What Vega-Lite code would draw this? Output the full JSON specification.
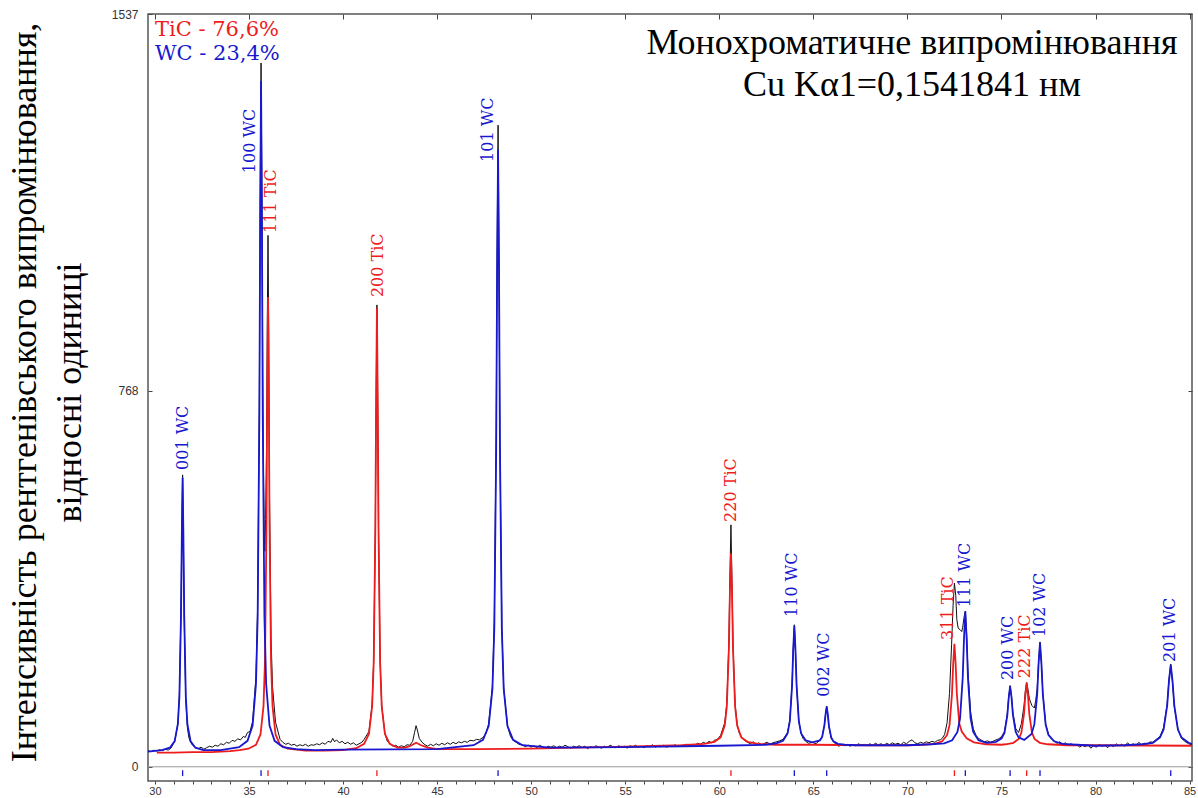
{
"$schema": "https://vega.github.io/schema/vega-lite/v6.json",
"width": 1044,
"height": 767,
"autosize": {"type": "none"},
"padding": {"left": 148, "top": 14, "right": 6, "bottom": 17},
"background": "white",
"config": {"view": {"stroke": "#555", "strokeWidth": 1.5}},
"title": {"text": ["Монохроматичне випромінювання", "Cu Kα1=0,1541841 нм"], "orient": "top", "anchor": "end", "align": "center", "dx": -280, "offset": -96, "baseline": "top", "font": "Liberation Serif", "fontSize": 36, "fontWeight": "normal", "color": "#000", "lineHeight": 42, "frame": "group"},
"datasets": {
"obs": [
{"x":29.63,"y":33},{"x":29.8,"y":31},{"x":29.95,"y":34},{"x":30.1,"y":32},{"x":30.25,"y":35},{"x":30.4,"y":33},{"x":30.55,"y":36},{"x":30.7,"y":34},{"x":30.85,"y":38},{"x":31.05,"y":52},{"x":31.22,"y":88},{"x":31.3,"y":150},{"x":31.385,"y":320},{"x":31.43,"y":490},{"x":31.47,"y":596},{"x":31.51,"y":470},{"x":31.555,"y":300},{"x":31.64,"y":135},{"x":31.725,"y":80},{"x":31.8,"y":60},{"x":31.895,"y":50},{"x":32.0,"y":44},{"x":32.15,"y":40},{"x":32.3,"y":37},{"x":32.45,"y":40},{"x":32.6,"y":36},{"x":32.75,"y":39},{"x":32.9,"y":42},{"x":33.05,"y":40},{"x":33.2,"y":44},{"x":33.35,"y":42},{"x":33.5,"y":47},{"x":33.65,"y":45},{"x":33.8,"y":50},{"x":33.95,"y":48},{"x":34.1,"y":54},{"x":34.25,"y":52},{"x":34.4,"y":57},{"x":34.55,"y":55},{"x":34.7,"y":62},{"x":34.8,"y":60},{"x":34.92,"y":70},{"x":35.05,"y":72},{"x":35.19,"y":92},{"x":35.37,"y":185},{"x":35.46,"y":330},{"x":35.55,"y":760},{"x":35.595,"y":1170},{"x":35.64,"y":1437},{"x":35.685,"y":1180},{"x":35.73,"y":800},{"x":35.77,"y":600},{"x":35.82,"y":450},{"x":35.85,"y":440},{"x":35.88,"y":505},{"x":35.93,"y":650},{"x":35.97,"y":900},{"x":36.01,"y":1085},{"x":36.05,"y":880},{"x":36.09,"y":550},{"x":36.17,"y":265},{"x":36.25,"y":164},{"x":36.41,"y":91},{"x":36.65,"y":56},{"x":36.8,"y":50},{"x":36.95,"y":46},{"x":37.1,"y":48},{"x":37.25,"y":44},{"x":37.4,"y":46},{"x":37.55,"y":42},{"x":37.7,"y":45},{"x":37.85,"y":43},{"x":38.0,"y":46},{"x":38.15,"y":42},{"x":38.3,"y":45},{"x":38.45,"y":44},{"x":38.6,"y":47},{"x":38.75,"y":45},{"x":38.9,"y":49},{"x":39.05,"y":46},{"x":39.2,"y":52},{"x":39.35,"y":50},{"x":39.45,"y":58},{"x":39.55,"y":51},{"x":39.65,"y":55},{"x":39.8,"y":49},{"x":39.95,"y":52},{"x":40.1,"y":47},{"x":40.25,"y":50},{"x":40.4,"y":46},{"x":40.55,"y":49},{"x":40.7,"y":44},{"x":40.85,"y":47},{"x":41.0,"y":50},{"x":41.12,"y":56},{"x":41.375,"y":72},{"x":41.545,"y":128},{"x":41.63,"y":220},{"x":41.715,"y":490},{"x":41.76,"y":760},{"x":41.8,"y":943},{"x":41.84,"y":750},{"x":41.885,"y":480},{"x":41.97,"y":215},{"x":42.055,"y":125},{"x":42.225,"y":68},{"x":42.35,"y":52},{"x":42.48,"y":48},{"x":42.65,"y":42},{"x":42.8,"y":44},{"x":42.95,"y":40},{"x":43.1,"y":43},{"x":43.25,"y":41},{"x":43.4,"y":45},{"x":43.55,"y":44},{"x":43.7,"y":52},{"x":43.8,"y":70},{"x":43.88,"y":84},{"x":43.95,"y":75},{"x":44.05,"y":58},{"x":44.2,"y":50},{"x":44.35,"y":45},{"x":44.5,"y":42},{"x":44.65,"y":46},{"x":44.8,"y":43},{"x":44.95,"y":47},{"x":45.1,"y":44},{"x":45.25,"y":48},{"x":45.4,"y":45},{"x":45.55,"y":49},{"x":45.7,"y":46},{"x":45.85,"y":50},{"x":46.0,"y":47},{"x":46.15,"y":51},{"x":46.3,"y":49},{"x":46.45,"y":52},{"x":46.6,"y":50},{"x":46.75,"y":54},{"x":46.94,"y":53},{"x":47.1,"y":56},{"x":47.25,"y":55},{"x":47.44,"y":60},{"x":47.6,"y":68},{"x":47.74,"y":88},{"x":47.94,"y":165},{"x":48.04,"y":300},{"x":48.14,"y":690},{"x":48.19,"y":1060},{"x":48.24,"y":1310},{"x":48.29,"y":1030},{"x":48.34,"y":660},{"x":48.44,"y":285},{"x":48.54,"y":160},{"x":48.74,"y":84},{"x":48.9,"y":62},{"x":49.04,"y":54},{"x":49.2,"y":50},{"x":49.35,"y":46},{"x":49.54,"y":44},{"x":49.7,"y":41},{"x":49.85,"y":44},{"x":50.0,"y":40},{"x":50.15,"y":43},{"x":50.3,"y":39},{"x":50.45,"y":44},{"x":50.6,"y":41},{"x":50.75,"y":38},{"x":50.9,"y":42},{"x":51.05,"y":40},{"x":51.2,"y":43},{"x":51.35,"y":39},{"x":51.5,"y":42},{"x":51.65,"y":40},{"x":51.8,"y":44},{"x":51.95,"y":41},{"x":52.1,"y":38},{"x":52.25,"y":42},{"x":52.4,"y":40},{"x":52.55,"y":43},{"x":52.7,"y":39},{"x":52.85,"y":42},{"x":53.0,"y":37},{"x":53.15,"y":41},{"x":53.3,"y":39},{"x":53.45,"y":43},{"x":53.6,"y":40},{"x":53.75,"y":38},{"x":53.9,"y":42},{"x":54.05,"y":40},{"x":54.2,"y":44},{"x":54.35,"y":41},{"x":54.5,"y":39},{"x":54.65,"y":43},{"x":54.8,"y":40},{"x":54.95,"y":42},{"x":55.1,"y":38},{"x":55.25,"y":43},{"x":55.4,"y":41},{"x":55.55,"y":44},{"x":55.7,"y":40},{"x":55.85,"y":42},{"x":56.0,"y":39},{"x":56.15,"y":43},{"x":56.3,"y":41},{"x":56.45,"y":45},{"x":56.6,"y":40},{"x":56.75,"y":43},{"x":56.9,"y":41},{"x":57.05,"y":44},{"x":57.2,"y":40},{"x":57.35,"y":43},{"x":57.5,"y":42},{"x":57.65,"y":45},{"x":57.8,"y":41},{"x":57.95,"y":44},{"x":58.1,"y":42},{"x":58.25,"y":46},{"x":58.4,"y":43},{"x":58.55,"y":45},{"x":58.7,"y":44},{"x":58.85,"y":48},{"x":59.0,"y":46},{"x":59.15,"y":50},{"x":59.3,"y":47},{"x":59.45,"y":52},{"x":59.6,"y":49},{"x":59.74,"y":54},{"x":59.9,"y":56},{"x":60.07,"y":64},{"x":60.29,"y":90},{"x":60.4,"y":130},{"x":60.51,"y":255},{"x":60.565,"y":390},{"x":60.62,"y":494},{"x":60.675,"y":380},{"x":60.73,"y":250},{"x":60.84,"y":128},{"x":60.95,"y":88},{"x":61.05,"y":70},{"x":61.17,"y":62},{"x":61.3,"y":55},{"x":61.5,"y":50},{"x":61.65,"y":47},{"x":61.8,"y":51},{"x":61.95,"y":46},{"x":62.1,"y":49},{"x":62.25,"y":45},{"x":62.4,"y":48},{"x":62.55,"y":50},{"x":62.7,"y":46},{"x":62.85,"y":49},{"x":63.03,"y":51},{"x":63.2,"y":53},{"x":63.39,"y":56},{"x":63.63,"y":70},{"x":63.75,"y":95},{"x":63.87,"y":170},{"x":63.93,"y":240},{"x":63.99,"y":290},{"x":64.05,"y":238},{"x":64.11,"y":165},{"x":64.23,"y":92},{"x":64.35,"y":68},{"x":64.45,"y":58},{"x":64.59,"y":52},{"x":64.75,"y":48},{"x":64.95,"y":50},{"x":65.15,"y":47},{"x":65.35,"y":55},{"x":65.47,"y":62},{"x":65.59,"y":86},{"x":65.65,"y":108},{"x":65.71,"y":124},{"x":65.77,"y":105},{"x":65.83,"y":82},{"x":65.95,"y":58},{"x":66.07,"y":51},{"x":66.2,"y":46},{"x":66.35,"y":42},{"x":66.5,"y":45},{"x":66.65,"y":43},{"x":66.8,"y":46},{"x":66.95,"y":42},{"x":67.1,"y":45},{"x":67.25,"y":43},{"x":67.4,"y":47},{"x":67.55,"y":44},{"x":67.7,"y":46},{"x":67.85,"y":43},{"x":68.0,"y":47},{"x":68.15,"y":44},{"x":68.3,"y":48},{"x":68.45,"y":45},{"x":68.6,"y":47},{"x":68.75,"y":44},{"x":68.9,"y":48},{"x":69.05,"y":45},{"x":69.2,"y":49},{"x":69.35,"y":46},{"x":69.5,"y":48},{"x":69.65,"y":45},{"x":69.8,"y":50},{"x":69.95,"y":47},{"x":70.1,"y":52},{"x":70.25,"y":55},{"x":70.4,"y":49},{"x":70.55,"y":47},{"x":70.7,"y":50},{"x":70.85,"y":48},{"x":71.0,"y":51},{"x":71.15,"y":49},{"x":71.3,"y":52},{"x":71.46,"y":50},{"x":71.6,"y":54},{"x":71.75,"y":55},{"x":71.85,"y":58},{"x":71.98,"y":66},{"x":72.11,"y":90},{"x":72.24,"y":150},{"x":72.35,"y":250},{"x":72.43,"y":330},{"x":72.5,"y":375},{"x":72.57,"y":350},{"x":72.63,"y":300},{"x":72.7,"y":283},{"x":72.8,"y":280},{"x":72.89,"y":276},{"x":72.94,"y":285},{"x":73.01,"y":305},{"x":73.08,"y":318},{"x":73.15,"y":270},{"x":73.22,"y":195},{"x":73.36,"y":112},{"x":73.5,"y":78},{"x":73.65,"y":64},{"x":73.78,"y":58},{"x":73.95,"y":54},{"x":74.1,"y":51},{"x":74.26,"y":53},{"x":74.4,"y":50},{"x":74.55,"y":52},{"x":74.71,"y":55},{"x":74.85,"y":57},{"x":75.01,"y":62},{"x":75.16,"y":72},{"x":75.31,"y":108},{"x":75.385,"y":142},{"x":75.46,"y":166},{"x":75.535,"y":144},{"x":75.61,"y":110},{"x":75.76,"y":78},{"x":75.91,"y":70},{"x":76.06,"y":88},{"x":76.2,"y":125},{"x":76.27,"y":155},{"x":76.34,"y":172},{"x":76.41,"y":158},{"x":76.48,"y":140},{"x":76.55,"y":132},{"x":76.62,"y":125},{"x":76.75,"y":120},{"x":76.82,"y":135},{"x":76.9,"y":160},{"x":76.975,"y":215},{"x":77.05,"y":255},{"x":77.125,"y":212},{"x":77.2,"y":150},{"x":77.35,"y":88},{"x":77.5,"y":66},{"x":77.65,"y":57},{"x":77.8,"y":53},{"x":77.95,"y":48},{"x":78.1,"y":51},{"x":78.25,"y":46},{"x":78.4,"y":49},{"x":78.55,"y":44},{"x":78.7,"y":47},{"x":78.85,"y":43},{"x":79.0,"y":46},{"x":79.15,"y":40},{"x":79.3,"y":44},{"x":79.45,"y":41},{"x":79.6,"y":45},{"x":79.75,"y":38},{"x":79.9,"y":43},{"x":80.05,"y":40},{"x":80.2,"y":46},{"x":80.35,"y":42},{"x":80.5,"y":44},{"x":80.65,"y":39},{"x":80.8,"y":45},{"x":80.95,"y":41},{"x":81.1,"y":47},{"x":81.25,"y":43},{"x":81.4,"y":46},{"x":81.55,"y":42},{"x":81.7,"y":49},{"x":81.85,"y":44},{"x":82.0,"y":47},{"x":82.15,"y":43},{"x":82.3,"y":50},{"x":82.45,"y":45},{"x":82.6,"y":48},{"x":82.75,"y":46},{"x":82.9,"y":51},{"x":83.05,"y":50},{"x":83.2,"y":55},{"x":83.43,"y":62},{"x":83.62,"y":80},{"x":83.81,"y":128},{"x":83.905,"y":178},{"x":84.0,"y":210},{"x":84.095,"y":172},{"x":84.19,"y":122},{"x":84.38,"y":78},{"x":84.57,"y":58},{"x":84.75,"y":52},{"x":84.95,"y":47},{"x":85.13,"y":45}
],
"fit": [
{"phase":"TiC","x":30.1,"y":29},{"phase":"TiC","x":31,"y":29},{"phase":"TiC","x":32,"y":30},{"phase":"TiC","x":33,"y":30},{"phase":"TiC","x":34,"y":32},{"phase":"TiC","x":34.5,"y":34},{"phase":"TiC","x":34.97,"y":37},{"phase":"TiC","x":35.37,"y":45},{"phase":"TiC","x":35.61,"y":66},{"phase":"TiC","x":35.77,"y":124},{"phase":"TiC","x":35.85,"y":217},{"phase":"TiC","x":35.93,"y":495},{"phase":"TiC","x":35.97,"y":773},{"phase":"TiC","x":36.01,"y":959},{"phase":"TiC","x":36.05,"y":773},{"phase":"TiC","x":36.09,"y":495},{"phase":"TiC","x":36.17,"y":217},{"phase":"TiC","x":36.25,"y":124},{"phase":"TiC","x":36.41,"y":66},{"phase":"TiC","x":36.65,"y":45},{"phase":"TiC","x":37.05,"y":37},{"phase":"TiC","x":38,"y":33},{"phase":"TiC","x":39,"y":33},{"phase":"TiC","x":40,"y":34},{"phase":"TiC","x":40.7,"y":38},{"phase":"TiC","x":41.12,"y":47},{"phase":"TiC","x":41.375,"y":67},{"phase":"TiC","x":41.545,"y":123},{"phase":"TiC","x":41.63,"y":214},{"phase":"TiC","x":41.715,"y":485},{"phase":"TiC","x":41.76,"y":755},{"phase":"TiC","x":41.8,"y":936},{"phase":"TiC","x":41.84,"y":755},{"phase":"TiC","x":41.885,"y":485},{"phase":"TiC","x":41.97,"y":214},{"phase":"TiC","x":42.055,"y":123},{"phase":"TiC","x":42.225,"y":67},{"phase":"TiC","x":42.48,"y":47},{"phase":"TiC","x":42.9,"y":39},{"phase":"TiC","x":43.3,"y":39},{"phase":"TiC","x":43.6,"y":43},{"phase":"TiC","x":43.88,"y":49},{"phase":"TiC","x":44.15,"y":44},{"phase":"TiC","x":44.5,"y":39},{"phase":"TiC","x":45,"y":36},{"phase":"TiC","x":47,"y":36},{"phase":"TiC","x":50,"y":37},{"phase":"TiC","x":55,"y":41},{"phase":"TiC","x":58,"y":44},{"phase":"TiC","x":59.19,"y":47},{"phase":"TiC","x":59.74,"y":51},{"phase":"TiC","x":60.07,"y":60},{"phase":"TiC","x":60.29,"y":84},{"phase":"TiC","x":60.4,"y":123},{"phase":"TiC","x":60.51,"y":241},{"phase":"TiC","x":60.565,"y":358},{"phase":"TiC","x":60.62,"y":436},{"phase":"TiC","x":60.675,"y":358},{"phase":"TiC","x":60.73,"y":241},{"phase":"TiC","x":60.84,"y":123},{"phase":"TiC","x":60.95,"y":84},{"phase":"TiC","x":61.17,"y":60},{"phase":"TiC","x":61.5,"y":51},{"phase":"TiC","x":62.05,"y":47},{"phase":"TiC","x":63,"y":45},{"phase":"TiC","x":65,"y":45},{"phase":"TiC","x":68,"y":44},{"phase":"TiC","x":70,"y":44},{"phase":"TiC","x":70.81,"y":45},{"phase":"TiC","x":71.46,"y":47},{"phase":"TiC","x":71.85,"y":52},{"phase":"TiC","x":72.11,"y":65},{"phase":"TiC","x":72.24,"y":85},{"phase":"TiC","x":72.37,"y":148},{"phase":"TiC","x":72.435,"y":210},{"phase":"TiC","x":72.5,"y":251},{"phase":"TiC","x":72.565,"y":210},{"phase":"TiC","x":72.63,"y":148},{"phase":"TiC","x":72.76,"y":88},{"phase":"TiC","x":72.89,"y":72},{"phase":"TiC","x":73.15,"y":58},{"phase":"TiC","x":73.54,"y":50},{"phase":"TiC","x":74.19,"y":46},{"phase":"TiC","x":75,"y":45},{"phase":"TiC","x":75.22,"y":46},{"phase":"TiC","x":75.64,"y":49},{"phase":"TiC","x":75.92,"y":57},{"phase":"TiC","x":76.06,"y":70},{"phase":"TiC","x":76.2,"y":108},{"phase":"TiC","x":76.27,"y":146},{"phase":"TiC","x":76.34,"y":172},{"phase":"TiC","x":76.41,"y":146},{"phase":"TiC","x":76.48,"y":108},{"phase":"TiC","x":76.62,"y":70},{"phase":"TiC","x":76.76,"y":57},{"phase":"TiC","x":77.04,"y":49},{"phase":"TiC","x":77.46,"y":46},{"phase":"TiC","x":78.5,"y":44},{"phase":"TiC","x":80,"y":44},{"phase":"TiC","x":85.13,"y":43},
{"phase":"WC","x":29.63,"y":31},{"phase":"WC","x":30.37,"y":34},{"phase":"WC","x":30.79,"y":39},{"phase":"WC","x":31.045,"y":52},{"phase":"WC","x":31.215,"y":87},{"phase":"WC","x":31.3,"y":143},{"phase":"WC","x":31.385,"y":311},{"phase":"WC","x":31.43,"y":478},{"phase":"WC","x":31.47,"y":590},{"phase":"WC","x":31.51,"y":478},{"phase":"WC","x":31.555,"y":311},{"phase":"WC","x":31.64,"y":143},{"phase":"WC","x":31.725,"y":87},{"phase":"WC","x":31.895,"y":52},{"phase":"WC","x":32.15,"y":39},{"phase":"WC","x":32.57,"y":34},{"phase":"WC","x":33.5,"y":34},{"phase":"WC","x":34.47,"y":40},{"phase":"WC","x":34.92,"y":53},{"phase":"WC","x":35.19,"y":84},{"phase":"WC","x":35.37,"y":169},{"phase":"WC","x":35.46,"y":306},{"phase":"WC","x":35.55,"y":716},{"phase":"WC","x":35.595,"y":1126},{"phase":"WC","x":35.64,"y":1400},{"phase":"WC","x":35.685,"y":1126},{"phase":"WC","x":35.73,"y":716},{"phase":"WC","x":35.82,"y":306},{"phase":"WC","x":35.91,"y":169},{"phase":"WC","x":36.09,"y":84},{"phase":"WC","x":36.36,"y":53},{"phase":"WC","x":36.81,"y":40},{"phase":"WC","x":37.5,"y":36},{"phase":"WC","x":38.5,"y":34},{"phase":"WC","x":40,"y":35},{"phase":"WC","x":45,"y":36},{"phase":"WC","x":46.94,"y":44},{"phase":"WC","x":47.44,"y":55},{"phase":"WC","x":47.74,"y":83},{"phase":"WC","x":47.94,"y":159},{"phase":"WC","x":48.04,"y":282},{"phase":"WC","x":48.14,"y":649},{"phase":"WC","x":48.19,"y":1015},{"phase":"WC","x":48.24,"y":1260},{"phase":"WC","x":48.29,"y":1015},{"phase":"WC","x":48.34,"y":649},{"phase":"WC","x":48.44,"y":282},{"phase":"WC","x":48.54,"y":159},{"phase":"WC","x":48.74,"y":83},{"phase":"WC","x":49.04,"y":55},{"phase":"WC","x":49.54,"y":44},{"phase":"WC","x":51,"y":39},{"phase":"WC","x":55,"y":40},{"phase":"WC","x":60,"y":43},{"phase":"WC","x":62.43,"y":45},{"phase":"WC","x":63.03,"y":48},{"phase":"WC","x":63.39,"y":53},{"phase":"WC","x":63.63,"y":68},{"phase":"WC","x":63.75,"y":93},{"phase":"WC","x":63.87,"y":166},{"phase":"WC","x":63.93,"y":239},{"phase":"WC","x":63.99,"y":288},{"phase":"WC","x":64.05,"y":239},{"phase":"WC","x":64.11,"y":166},{"phase":"WC","x":64.23,"y":93},{"phase":"WC","x":64.35,"y":68},{"phase":"WC","x":64.59,"y":54},{"phase":"WC","x":64.95,"y":50},{"phase":"WC","x":65.35,"y":54},{"phase":"WC","x":65.47,"y":61},{"phase":"WC","x":65.59,"y":85},{"phase":"WC","x":65.65,"y":107},{"phase":"WC","x":65.71,"y":123},{"phase":"WC","x":65.77,"y":107},{"phase":"WC","x":65.83,"y":83},{"phase":"WC","x":65.95,"y":60},{"phase":"WC","x":66.07,"y":52},{"phase":"WC","x":66.31,"y":47},{"phase":"WC","x":66.67,"y":45},{"phase":"WC","x":67.3,"y":44},{"phase":"WC","x":70,"y":44},{"phase":"WC","x":71.26,"y":46},{"phase":"WC","x":71.96,"y":48},{"phase":"WC","x":72.38,"y":54},{"phase":"WC","x":72.66,"y":71},{"phase":"WC","x":72.8,"y":99},{"phase":"WC","x":72.94,"y":181},{"phase":"WC","x":73.01,"y":262},{"phase":"WC","x":73.08,"y":317},{"phase":"WC","x":73.15,"y":262},{"phase":"WC","x":73.22,"y":181},{"phase":"WC","x":73.36,"y":99},{"phase":"WC","x":73.5,"y":71},{"phase":"WC","x":73.78,"y":54},{"phase":"WC","x":74.2,"y":49},{"phase":"WC","x":74.71,"y":51},{"phase":"WC","x":75.01,"y":58},{"phase":"WC","x":75.16,"y":69},{"phase":"WC","x":75.31,"y":104},{"phase":"WC","x":75.385,"y":140},{"phase":"WC","x":75.46,"y":164},{"phase":"WC","x":75.535,"y":142},{"phase":"WC","x":75.61,"y":106},{"phase":"WC","x":75.76,"y":71},{"phase":"WC","x":75.91,"y":60},{"phase":"WC","x":76.21,"y":55},{"phase":"WC","x":76.6,"y":67},{"phase":"WC","x":76.75,"y":87},{"phase":"WC","x":76.9,"y":148},{"phase":"WC","x":76.975,"y":211},{"phase":"WC","x":77.05,"y":253},{"phase":"WC","x":77.125,"y":211},{"phase":"WC","x":77.2,"y":148},{"phase":"WC","x":77.35,"y":86},{"phase":"WC","x":77.5,"y":65},{"phase":"WC","x":77.8,"y":52},{"phase":"WC","x":78.25,"y":47},{"phase":"WC","x":79,"y":45},{"phase":"WC","x":80,"y":43},{"phase":"WC","x":81.53,"y":44},{"phase":"WC","x":82.48,"y":46},{"phase":"WC","x":83.05,"y":49},{"phase":"WC","x":83.43,"y":60},{"phase":"WC","x":83.62,"y":76},{"phase":"WC","x":83.81,"y":125},{"phase":"WC","x":83.905,"y":175},{"phase":"WC","x":84.0,"y":208},{"phase":"WC","x":84.095,"y":175},{"phase":"WC","x":84.19,"y":125},{"phase":"WC","x":84.38,"y":76},{"phase":"WC","x":84.57,"y":60},{"phase":"WC","x":84.95,"y":49},{"phase":"WC","x":85.13,"y":47}
],
"refl": [
{"phase":"TiC","x":36.01},{"phase":"TiC","x":41.8},{"phase":"TiC","x":60.62},{"phase":"TiC","x":72.5},{"phase":"TiC","x":76.34},
{"phase":"WC","x":31.47},{"phase":"WC","x":35.64},{"phase":"WC","x":48.24},{"phase":"WC","x":63.99},{"phase":"WC","x":65.71},{"phase":"WC","x":73.08},{"phase":"WC","x":75.46},{"phase":"WC","x":77.05},{"phase":"WC","x":84.0}
],
"labels": [
{"phase":"WC","label":"001 WC","x":31.47,"y":606},
{"phase":"WC","label":"100 WC","x":35.05,"y":1212},
{"phase":"TiC","label":"111 TiC","x":36.17,"y":1090},
{"phase":"TiC","label":"200 TiC","x":41.86,"y":959},
{"phase":"WC","label":"101 WC","x":47.7,"y":1235},
{"phase":"TiC","label":"220 TiC","x":60.62,"y":500},
{"phase":"WC","label":"110 WC","x":63.87,"y":306},
{"phase":"WC","label":"002 WC","x":65.57,"y":143},
{"phase":"TiC","label":"311 TiC","x":72.16,"y":259},
{"phase":"WC","label":"111 WC","x":73.06,"y":326},
{"phase":"WC","label":"200 WC","x":75.35,"y":177},
{"phase":"TiC","label":"222 TiC","x":76.25,"y":181},
{"phase":"WC","label":"102 WC","x":77.05,"y":265},
{"phase":"WC","label":"201 WC","x":83.96,"y":214}
]
},
"layer": [
{
"data": {"values": [{}]},
"mark": {"type": "rule", "color": "#9a9a9a", "strokeWidth": 1},
"encoding": {
"y": {"datum": 0, "type": "quantitative", "scale": {"domain": [-29, 1537], "nice": false, "zero": false}, "axis": null}
}
},
{
"data": {"name": "obs"},
"mark": {"type": "line", "color": "#111111", "strokeWidth": 1},
"encoding": {
"x": {"field": "x", "type": "quantitative", "scale": {"domain": [29.63, 85.13], "nice": false, "zero": false},
"axis": {"orient": "bottom", "values": [30,31,32,33,34,35,36,37,38,39,40,41,42,43,44,45,46,47,48,49,50,51,52,53,54,55,56,57,58,59,60,61,62,63,64,65,66,67,68,69,70,71,72,73,74,75,76,77,78,79,80,81,82,83,84,85], "labelExpr": "datum.value % 5 === 0 ? datum.label : ''", "title": null, "grid": false, "domain": false, "tickSize": 3, "tickColor": "#444", "labelFont": "Liberation Sans", "labelFontSize": 11, "labelColor": "#333", "labelPadding": 1, "labelOverlap": false, "labelFlush": false, "labelBound": false}},
"y": {"field": "y", "type": "quantitative", "scale": {"domain": [-29, 1537], "nice": false, "zero": false},
"axis": {"orient": "left", "values": [0, 768, 1537], "format": "d", "grid": false, "domain": false, "tickSize": -4, "tickColor": "#444", "labelFont": "Liberation Sans", "labelFontSize": 12, "labelColor": "#333", "labelPadding": 14, "labelOverlap": false, "labelFlush": false,
"title": ["Інтенсивність рентгенівського випромінювання,", "відносні одиниці"], "titleFont": "Liberation Serif", "titleFontSize": 36, "titleFontWeight": "normal", "titleColor": "#000", "titleAngle": 270, "titleAlign": "center", "titleBaseline": "alphabetic", "titleLineHeight": 45, "titleX": -113, "titleY": 378}}
}
},
{
"data": {"name": "fit"},
"mark": {"type": "line", "strokeWidth": 1.8},
"encoding": {
"x": {"field": "x", "type": "quantitative", "axis": null},
"y": {"field": "y", "type": "quantitative", "axis": null},
"color": {"field": "phase", "type": "nominal", "scale": {"domain": ["TiC", "WC"], "range": ["#ee1c1c", "#1818d0"]},
"legend": {"orient": "none", "legendX": -14, "legendY": 5, "title": null, "padding": 0, "symbolSize": 0, "symbolStrokeWidth": 0, "symbolOpacity": 0, "labelOffset": 0, "labelFont": "DejaVu Serif", "labelFontSize": 21, "labelLimit": 0, "rowPadding": 2,
"labelExpr": "datum.value === 'TiC' ? 'TiC - 76,6%' : 'WC - 23,4%'",
"labelColor": {"expr": "datum.value === 'TiC' ? '#ee1c1c' : '#1818d0'"}}}
}
},
{
"data": {"name": "refl"},
"mark": {"type": "rule", "strokeWidth": 1.3},
"encoding": {
"x": {"field": "x", "type": "quantitative", "axis": {"orient": "top", "values": [30,35,40,45,50,55,60,65,70,75,80,85], "labels": false, "tickSize": -5, "tickColor": "#444", "domain": false, "grid": false, "title": null}},
"y": {"datum": -7, "type": "quantitative", "axis": {"orient": "right", "values": [0, 768, 1537], "labels": false, "tickSize": -4, "tickColor": "#444", "domain": false, "grid": false, "title": null}},
"y2": {"datum": -19},
"color": {"field": "phase", "type": "nominal"}
}
},
{
"data": {"name": "labels"},
"mark": {"type": "text", "angle": 270, "align": "left", "baseline": "middle", "font": "DejaVu Serif", "fontSize": 16},
"encoding": {
"x": {"field": "x", "type": "quantitative", "axis": null},
"y": {"field": "y", "type": "quantitative", "axis": null},
"text": {"field": "label"},
"color": {"field": "phase", "type": "nominal"}
}
}
],
"resolve": {"axis": {"x": "independent", "y": "independent"}}
}
